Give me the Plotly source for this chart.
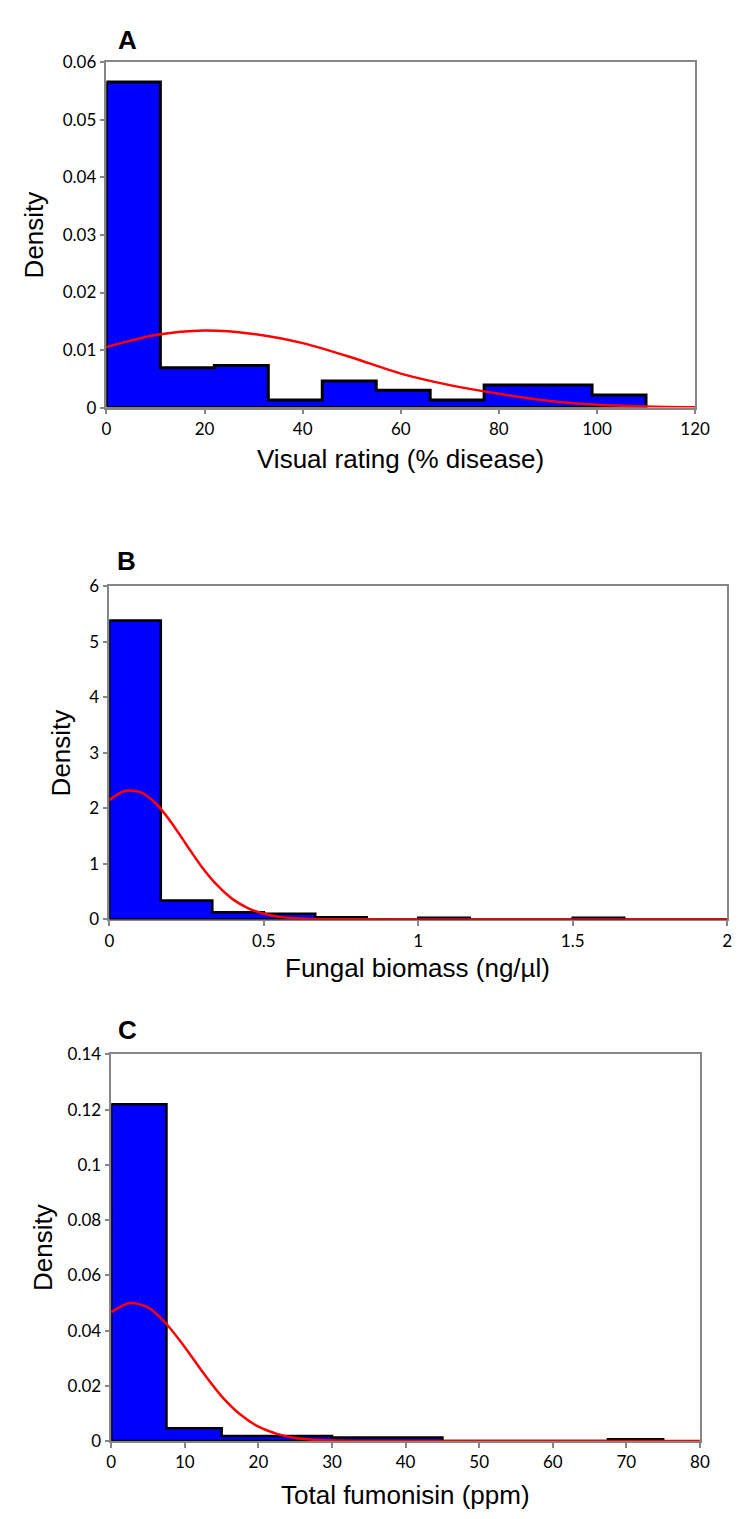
import plotly.graph_objects as go

# ---------------- Data ----------------
# Panel A: Visual rating (% disease)
A_bin_edges = [0, 11, 22, 33, 44, 55, 66, 77, 88, 99, 110]
A_density = [0.0566, 0.0069, 0.0073, 0.0013, 0.0046, 0.0030, 0.0013, 0.0039, 0.0039, 0.0022]
A_curve_x = [0, 10, 20, 30, 40, 50, 60, 70, 80, 90, 100, 110, 120]
A_curve_y = [0.0105, 0.0126, 0.0134, 0.0128, 0.0112, 0.0087, 0.0059, 0.0039, 0.0024, 0.0012, 0.0005, 0.0002, 0.00005]
A_xticks = [0, 20, 40, 60, 80, 100, 120]
A_yticks = [0, 0.01, 0.02, 0.03, 0.04, 0.05, 0.06]
A_yticklabels = ["0", "0.01", "0.02", "0.03", "0.04", "0.05", "0.06"]

# Panel B: Fungal biomass (ng/µl)
B_bin_edges = [0, 1/6, 2/6, 3/6, 4/6, 5/6, 1, 7/6, 8/6, 9/6, 10/6, 11/6, 2]
B_density = [5.38, 0.34, 0.13, 0.10, 0.04, 0.0, 0.03, 0.0, 0.0, 0.03, 0.0, 0.0]
B_curve_x = [0, 0.05, 0.1, 0.15, 0.2, 0.25, 0.3, 0.35, 0.4, 0.45, 0.5, 0.55, 0.6, 0.65, 0.7, 0.8, 1.0, 1.5, 2.0]
B_curve_y = [2.15, 2.31, 2.29, 2.09, 1.75, 1.34, 0.94, 0.61, 0.36, 0.20, 0.10, 0.045, 0.019, 0.007, 0.0026, 0.0002, 0, 0, 0]
B_xticks = [0, 0.5, 1, 1.5, 2]
B_xticklabels = ["0", "0.5", "1", "1.5", "2"]
B_yticks = [0, 1, 2, 3, 4, 5, 6]

# Panel C: Total fumonisin (ppm)
C_bin_edges = [0, 7.5, 15, 22.5, 30, 37.5, 45, 52.5, 60, 67.5, 75]
C_density = [0.122, 0.0046, 0.0018, 0.0018, 0.0013, 0.0013, 0.0, 0.0, 0.0, 0.0007]
C_curve_x = [0, 2.5, 5, 7.5, 10, 12.5, 15, 17.5, 20, 22.5, 25, 27.5, 30, 35, 40, 60, 80]
C_curve_y = [0.0467, 0.0500, 0.0484, 0.0424, 0.0340, 0.0247, 0.0162, 0.0097, 0.0052, 0.0026, 0.0011, 0.0005, 0.0002, 0.00002, 0, 0, 0]
C_xticks = [0, 10, 20, 30, 40, 50, 60, 70, 80]
C_yticks = [0, 0.02, 0.04, 0.06, 0.08, 0.1, 0.12, 0.14]
C_yticklabels = ["0", "0.02", "0.04", "0.06", "0.08", "0.1", "0.12", "0.14"]

panel_letters = ["A", "B", "C"]
x_titles = ["Visual rating (% disease)", "Fungal biomass (ng/µl)", "Total fumonisin (ppm)"]
y_title = "Density"

# ---------------- Figure ----------------
W, H = 741, 1519
fig = go.Figure()

TICKFONT = dict(family="Lato, 'Open Sans', sans-serif", size=17, color="#000000")
TITLEFONT = dict(family="'Liberation Sans', Arial, sans-serif", size=26, color="#000000")
AXIS_GRAY = "#868686"


def px_x(p):
    return p / W


def px_y(p):
    return 1 - p / H


def add_hist(edges, dens, cx, cy, xa, ya, outline_w):
    centers = [(edges[i] + edges[i + 1]) / 2 for i in range(len(dens))]
    widths = [edges[i + 1] - edges[i] for i in range(len(dens))]
    fig.add_trace(go.Bar(x=centers, y=dens, width=widths, marker=dict(color="#0000FF", line=dict(width=0)),
                         xaxis=xa, yaxis=ya, showlegend=False, hoverinfo="skip"))
    xs, ys = [edges[0]], [0]
    for i, h in enumerate(dens):
        xs += [edges[i], edges[i + 1]]
        ys += [h, h]
    xs += [edges[-1], edges[0]]
    ys += [0, 0]
    fig.add_trace(go.Scatter(x=xs, y=ys, mode="lines", line=dict(color="#000000", width=outline_w),
                             xaxis=xa, yaxis=ya, showlegend=False, hoverinfo="skip"))
    fig.add_trace(go.Scatter(x=cx, y=cy, mode="lines", line=dict(color="#FF0000", width=2.5, shape="spline", smoothing=0.8),
                             xaxis=xa, yaxis=ya, showlegend=False, hoverinfo="skip"))


add_hist(A_bin_edges, A_density, A_curve_x, A_curve_y, "x", "y", 3)
add_hist(B_bin_edges, B_density, B_curve_x, B_curve_y, "x2", "y2", 2.5)
add_hist(C_bin_edges, C_density, C_curve_x, C_curve_y, "x3", "y3", 2.5)

# plot areas in pixels: (left, right, top, bottom)
boxes = [(96, 701, 44, 394), (99, 734, 575, 913), (101, 706, 1050, 1442)]

common = dict(showline=True, linecolor=AXIS_GRAY, linewidth=1.5, mirror=True, ticks="outside",
              ticklen=5, tickcolor=AXIS_GRAY, tickwidth=1.5, showgrid=False, zeroline=False,
              tickfont=TICKFONT, layer="below traces", fixedrange=True)

axes_specs = [
    (dict(range=[0, 120], tickvals=A_xticks), dict(range=[0, 0.06], tickvals=A_yticks, ticktext=A_yticklabels)),
    (dict(range=[0, 2], tickvals=B_xticks, ticktext=B_xticklabels), dict(range=[0, 6], tickvals=B_yticks)),
    (dict(range=[0, 80], tickvals=C_xticks), dict(range=[0, 0.14], tickvals=C_yticks, ticktext=C_yticklabels)),
]

layout_axes = {}
for i, ((l, r, t, b), (xs, ys)) in enumerate(zip(boxes, axes_specs)):
    suffix = "" if i == 0 else str(i + 1)
    xa = dict(common, domain=[px_x(l), px_x(r)], anchor="y" + suffix, **xs)
    ya = dict(common, domain=[px_y(b), px_y(t)], anchor="x" + suffix, **ys)
    layout_axes["xaxis" + suffix] = xa
    layout_axes["yaxis" + suffix] = ya

annotations = []
letter_pos = [(118, 21), (117, 550), (118, 1025)]
for (x, y), letter in zip(letter_pos, panel_letters):
    annotations.append(dict(text="<b>%s</b>" % letter, x=px_x(x), y=px_y(y), xref="paper", yref="paper",
                            showarrow=False, xanchor="center", yanchor="middle",
                            font=dict(family="'Liberation Sans', Arial, sans-serif", size=26, color="#000000")))

xtitle_pos = [(398, 446), (416, 962), (403, 1497)]
for (x, y), t in zip(xtitle_pos, x_titles):
    annotations.append(dict(text=t, x=px_x(x), y=px_y(y), xref="paper", yref="paper", showarrow=False,
                            xanchor="center", yanchor="middle", font=TITLEFONT))

ytitle_pos = [(22, 219), (49, 744), (31, 1246)]
for (x, y) in ytitle_pos:
    annotations.append(dict(text=y_title, x=px_x(x), y=px_y(y), xref="paper", yref="paper", showarrow=False,
                            xanchor="center", yanchor="middle", textangle=-90, font=TITLEFONT))

fig.update_layout(
    width=W, height=H, margin=dict(l=0, r=0, t=0, b=0),
    paper_bgcolor="#FFFFFF", plot_bgcolor="#FFFFFF",
    bargap=0, barmode="overlay", showlegend=False,
    annotations=annotations, **layout_axes,
)

fig.write_html("out.html")
